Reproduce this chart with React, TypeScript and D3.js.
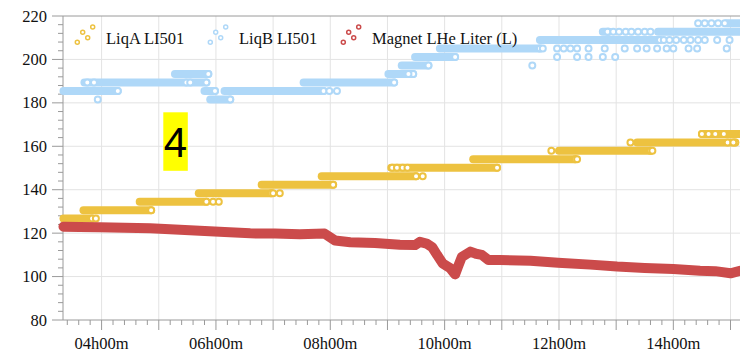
import React, { useEffect, useRef } from 'react';
import * as d3 from 'd3';

// runs of steady readings: [from, to, level]
const liqARuns: [string, string, number][] = [
  ["03:20", "03:50", 126.7], ["03:41", "04:52", 130.6], ["04:40", "05:50", 134.5],
  ["05:42", "06:58", 138.4], ["06:48", "08:03", 142.3], ["07:51", "09:30", 146.2],
  ["09:04", "10:55", 150.1], ["10:30", "12:17", 154.0], ["12:00", "13:36", 157.9],
  ["13:22", "15:05", 161.8], ["14:30", "15:12", 165.7],
];
const liqAPoints: [string, number][] = [
  ["03:54", 126.7], ["05:57", 134.5], ["06:03", 134.5], ["07:00", 138.4], ["07:07", 138.4],
  ["09:37", 146.2], ["09:05", 150.1], ["09:10", 150.1], ["09:16", 150.1], ["09:21", 150.1],
  ["12:19", 154.0], ["11:52", 157.9], ["13:38", 157.9], ["13:15", 161.8], ["14:57", 161.8],
  ["15:03", 161.8], ["14:30", 165.7], ["14:37", 165.7], ["14:44", 165.7], ["14:53", 165.7],
];

const liqBRuns: [string, string, number][] = [
  ["03:20", "04:17", 185.5], ["03:42", "05:50", 189.4], ["05:17", "05:52", 193.3],
  ["05:48", "05:59", 185.5], ["05:54", "06:15", 181.6], ["06:09", "07:53", 185.5],
  ["07:32", "09:07", 189.4], ["09:01", "09:27", 193.3], ["09:15", "09:43", 197.2],
  ["09:29", "10:11", 201.1], ["09:55", "11:40", 205.0], ["11:40", "13:46", 208.9],
  ["12:46", "12:52", 212.8], ["13:44", "15:15", 212.8], ["14:56", "15:15", 216.7],
];
const liqBPoints: [string, number][] = [
  ["03:45", 189.4], ["03:52", 189.4], ["05:29", 189.4], ["05:33", 189.4], ["03:56", 181.6],
  ["07:59", 185.5], ["08:07", 185.5], ["09:22", 193.3], ["11:32", 197.2],
  ["11:58", 201.1], ["12:19", 201.1], ["12:31", 201.1], ["12:46", 201.1], ["12:59", 201.1],
  ["11:43", 205.0], ["11:58", 205.0], ["12:05", 205.0], ["12:12", 205.0], ["12:19", 205.0],
  ["12:31", 205.0], ["12:48", 205.0], ["13:09", 205.0], ["13:22", 205.0], ["13:32", 205.0],
  ["13:43", 205.0], ["13:53", 205.0], ["14:00", 205.0], ["14:16", 205.0], ["14:25", 205.0],
  ["14:56", 205.0],
  ["13:50", 208.9], ["13:56", 208.9], ["14:03", 208.9], ["14:11", 208.9], ["14:18", 208.9],
  ["14:26", 208.9], ["14:33", 208.9], ["14:46", 208.9], ["14:59", 208.9],
  ["12:51", 212.8], ["12:57", 212.8], ["13:03", 212.8], ["13:10", 212.8], ["13:16", 212.8],
  ["13:23", 212.8], ["13:30", 212.8], ["13:36", 212.8],
  ["14:26", 216.7], ["14:33", 216.7], ["14:40", 216.7], ["14:47", 216.7], ["14:54", 216.7],
];

const magnetPoints: [string, number][] = [
  ["03:20", 123.0], ["03:37", 122.8], ["03:58", 122.7], ["04:24", 122.5], ["04:51", 122.2],
  ["05:17", 121.7], ["05:43", 121.1], ["06:09", 120.5], ["06:36", 119.9], ["07:02", 119.8],
  ["07:28", 119.5], ["07:54", 119.8], ["08:05", 116.6], ["08:21", 115.8], ["08:47", 115.5],
  ["09:13", 114.7], ["09:29", 114.5], ["09:34", 116.0], ["09:41", 115.2], ["09:47", 113.5],
  ["09:52", 110.0], ["09:58", 106.0], ["10:06", 103.8], ["10:11", 101.0], ["10:14", 104.5],
  ["10:18", 109.0], ["10:27", 111.5], ["10:33", 110.5], ["10:39", 110.0], ["10:46", 107.6],
  ["10:58", 107.6], ["11:30", 107.3], ["11:59", 106.4], ["12:33", 105.5], ["13:01", 104.6],
  ["13:30", 104.0], ["14:00", 103.5], ["14:28", 102.7], ["14:44", 102.5], ["15:00", 101.5],
  ["15:10", 102.7],
];

const seriesNames = ["LiqA LI501", "LiqB LI501", "Magnet LHe Liter (L)"];
const seriesColors = ["#edc240", "#afd8f8", "#cb4b4b"];
const yMajorTicks = [80, 100, 120, 140, 160, 180, 200, 220];
const xLabelTimes = ["04:00", "06:00", "08:00", "10:00", "12:00", "14:00"];

const toMin = (s: string) => {
  const [h, m] = s.split(":").map(Number);
  return h * 60 + m;
};

export default function App() {
  const svgRef = useRef<SVGSVGElement>(null);
  const width = 740;
  const height = 352;

  useEffect(() => {
    if (!svgRef.current) return;
    const svg = d3.select(svgRef.current);
    svg.selectAll("*").remove();

    const font = "'Liberation Serif', 'Times New Roman', serif";
    const axisColor = "#9a9a9a";
    const gridColor = "#e3e3e3";
    const top = 16, bottom = 320, left = 63;

    const x = d3.scaleLinear().domain([199.5, 915]).range([left, 744.8]);
    const y = d3.scaleLinear().domain([80, 220]).range([bottom, top]);

    // grid
    const grid = svg.append("g");
    grid.selectAll("line.h").data(yMajorTicks.slice(1, -1)).join("line")
      .attr("x1", left).attr("x2", width).attr("y1", d => y(d)).attr("y2", d => y(d))
      .attr("stroke", gridColor).attr("stroke-width", 1);
    grid.selectAll("line.v").data(d3.range(240, 915, 60)).join("line")
      .attr("x1", d => x(d)).attr("x2", d => x(d)).attr("y1", top).attr("y2", bottom)
      .attr("stroke", gridColor).attr("stroke-width", 1);

    // axes frame
    svg.append("line").attr("x1", left).attr("x2", width).attr("y1", top).attr("y2", top).attr("stroke", axisColor);
    svg.append("line").attr("x1", left).attr("x2", width).attr("y1", bottom).attr("y2", bottom).attr("stroke", axisColor);
    svg.append("line").attr("x1", left).attr("x2", left).attr("y1", top).attr("y2", bottom).attr("stroke", axisColor);

    // y ticks
    svg.append("g").selectAll("line").data(d3.range(80, 221, 4)).join("line")
      .attr("x1", d => left - (d % 20 === 0 ? 11 : 5)).attr("x2", left)
      .attr("y1", d => y(d)).attr("y2", d => y(d)).attr("stroke", axisColor);
    svg.append("g").selectAll("text").data(yMajorTicks).join("text")
      .attr("x", 47).attr("y", d => y(d) + 5.5).attr("text-anchor", "end")
      .style("font-family", font).style("font-size", "16.5px").attr("fill", "#111")
      .text(d => d);

    // x ticks
    svg.append("g").selectAll("line").data(d3.range(204, 915, 12)).join("line")
      .attr("x1", d => x(d)).attr("x2", d => x(d))
      .attr("y1", bottom).attr("y2", d => bottom + (d % 60 === 0 ? 10 : 5)).attr("stroke", axisColor);
    svg.append("g").selectAll("text").data(xLabelTimes).join("text")
      .attr("x", d => x(toMin(d))).attr("y", 348.5).attr("text-anchor", "middle")
      .style("font-family", font).style("font-size", "16.5px").attr("fill", "#111")
      .text(d => d.replace(":", "h") + "m");

    const drawSteps = (runs: [string, string, number][], pts: [string, number][], color: string) => {
      const g = svg.append("g");
      g.selectAll("line").data(runs).join("line")
        .attr("x1", d => x(toMin(d[0]))).attr("x2", d => x(toMin(d[1])))
        .attr("y1", d => y(d[2])).attr("y2", d => y(d[2]))
        .attr("stroke", color).attr("stroke-width", 8).attr("stroke-linecap", "round");
      const rings: [string, number][] = [...runs.map(r => [r[1], r[2]] as [string, number]), ...pts];
      g.selectAll("circle").data(rings).join("circle")
        .attr("cx", d => x(toMin(d[0]))).attr("cy", d => y(d[1])).attr("r", 3)
        .attr("fill", "#fff").attr("stroke", color).attr("stroke-width", 2);
    };

    drawSteps(liqARuns, liqAPoints, seriesColors[0]);
    drawSteps(liqBRuns, liqBPoints, seriesColors[1]);

    const line = d3.line<[string, number]>().x(d => x(toMin(d[0]))).y(d => y(d[1]));
    svg.append("path").datum(magnetPoints).attr("d", line)
      .attr("fill", "none").attr("stroke", seriesColors[2]).attr("stroke-width", 10)
      .attr("stroke-linejoin", "round").attr("stroke-linecap", "round");

    // legend
    const legendX = [106, 239, 372];
    const iconOffsets = [[-28.7, 42.3], [-23.3, 32.3], [-18.3, 37.7], [-13.3, 27]];
    seriesNames.forEach((name, i) => {
      const lg = svg.append("g");
      lg.selectAll("circle").data(iconOffsets).join("circle")
        .attr("cx", d => legendX[i] + d[0]).attr("cy", d => d[1]).attr("r", 2)
        .attr("fill", "#fff").attr("stroke", seriesColors[i]).attr("stroke-width", 1.5);
      lg.append("text").attr("x", legendX[i]).attr("y", 43.5)
        .style("font-family", font).style("font-size", "16.5px").attr("fill", "#111")
        .text(name);
    });

    // panel label
    svg.append("rect").attr("x", 163.3).attr("y", 112.3).attr("width", 24.5).attr("height", 58.5).attr("fill", "#ffff00");
    svg.append("text").attr("x", 175.5).attr("y", 156.7).attr("text-anchor", "middle")
      .style("font-family", "'Liberation Sans', Arial, sans-serif").style("font-size", "42px").attr("fill", "#000")
      .text("4");
  }, []);

  return (
    <svg ref={svgRef} width={width} height={height} viewBox={`0 0 ${width} ${height}`}
      style={{ position: "absolute", left: 0, top: 0, display: "block", background: "#fff" }} />
  );
}
